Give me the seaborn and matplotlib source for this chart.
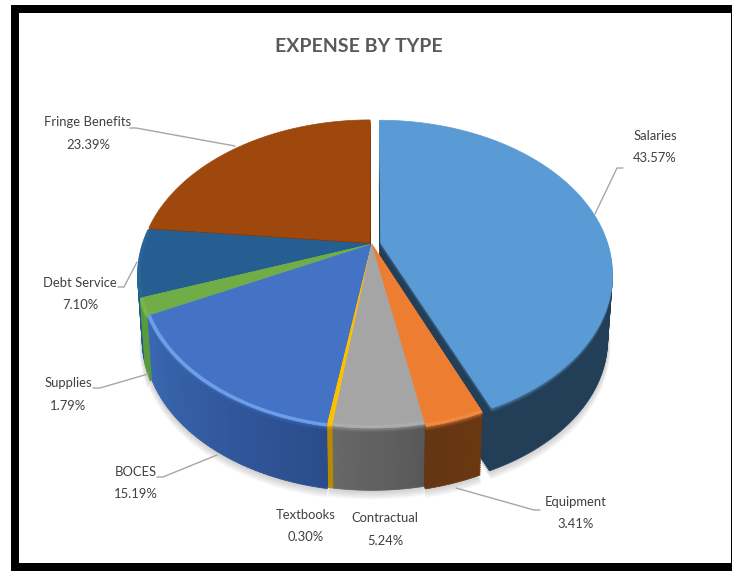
import numpy as np
import matplotlib
matplotlib.use("Agg")
import matplotlib.pyplot as plt
import seaborn as sns
from matplotlib.patches import Rectangle
from matplotlib.path import Path
from matplotlib.transforms import Transform, Affine2D

categories = ["Salaries", "Equipment", "Contractual", "Textbooks",
              "BOCES", "Supplies", "Debt Service", "Fringe Benefits"]
values = [43.57, 3.41, 5.24, 0.30, 15.19, 1.79, 7.10, 23.39]
top_colors = ["#5b9bd5", "#ed7d31", "#a5a5a5", "#ffc000",
              "#4472c4", "#70ad47", "#255e91", "#9e480e"]
rim_colors = ["#5b9bd5", "#ef8a45", "#adadad", "#ffc000",
              "#6d9eea", "#78b550", "#2a6498", "#9e480e"]
side_start = ["#233f57", "#6a3712", "#585858", "#b88a00",
              "#2b4c8c", "#5a9a3e", "#1f5a8c", "#6b3008"]
side_end = ["#233f57", "#643614", "#686868", "#b88a00",
            "#3a68b2", "#5a9a3e", "#1f5a8c", "#6b3008"]
explode = [0.04, 0.012, 0.0, 0.0, 0.006, 0.012, 0.012, 0.015]

# label placement (pixels in the figure): name line, value line
label_x = [655, 576, 385, 306, 136, 68, 80, 88]
name_y = [136, 502, 518, 515, 472, 383, 283, 122]
value_y = [158, 524, 541, 537, 494, 406, 305, 145]
leaders = [
    [(623, 168), (617, 168), (595, 214)],
    [(540, 510), (534, 510), (456, 488)],
    [],
    [],
    [(157, 477), (163, 477), (217, 455)],
    [(93, 388), (100, 388), (148, 374)],
    [(118, 287), (124, 287), (137, 262)],
    [(130, 128), (136, 128), (235, 146)],
]
title = "EXPENSE BY TYPE"

# projection of the unit pie on to the picture
CX, CY = 372, 244
K, A, B = 0.199, 147.4, 227.0
DEPTH = 66


class Perspective(Transform):
    input_dims = output_dims = 2
    is_separable = False
    has_inverse = False

    def __init__(self, drop=0.0):
        super().__init__()
        self.drop = drop

    def transform_non_affine(self, xy):
        xy = np.asarray(xy, dtype=float)
        w = 1 + K * xy[:, 1]
        s = 1 - 0.02 * self.drop / DEPTH
        return np.column_stack([CX + s * B * xy[:, 0] / w,
                                CY + self.drop - s * A * xy[:, 1] / w])

    def transform_path_non_affine(self, path):
        polys = path.transformed(Affine2D().scale(1000)).to_polygons(closed_only=False)
        return Path(self.transform_non_affine(np.vstack(polys) / 1000))


sns.set_theme(style="white")
plt.rcParams["font.family"] = ["Lato", "DejaVu Sans"]

fig = plt.figure(figsize=(7.32, 5.71), dpi=100, facecolor="white")
ax = fig.add_axes([0, 0, 1, 1])

fractions = np.array(values) / sum(values)
starts = 90 - 360 * np.concatenate([[0], np.cumsum(fractions)[:-1]])
mids = np.radians(starts - 180 * fractions)
centers = [(e * np.cos(m), e * np.sin(m)) for e, m in zip(explode, mids)]


def draw_slice(i, drop, colors, radius=1.0, **props):
    """One slice, split into as many sub-wedges as colours given."""
    parts = np.full(len(colors), fractions[i] / len(colors))
    wedges, _ = ax.pie(parts, colors=colors, startangle=starts[i], counterclock=False,
                       center=centers[i], radius=radius, normalize=False,
                       wedgeprops=dict(linewidth=0.5, **props))
    tr = Perspective(drop) + ax.transData
    for w in wedges:
        w.set_transform(tr)
        w.set_edgecolor(w.get_facecolor())
    return wedges


# soft ground shadow
for k in range(7, 0, -1):
    for i in range(len(values)):
        for w in draw_slice(i, DEPTH + k * 0.9, [(0.35, 0.35, 0.35)],
                            radius=1 + k * 0.002, alpha=0.045):
            w.set_linewidth(0)

# walls, bottom layer first; back slices before front slices
order = [7, 6, 5, 0, 4, 3, 2, 1]
for drop in np.arange(DEPTH, 0, -2):
    blend = np.clip((5 - drop) / 5, 0, 1) * 0.75
    for i in order:
        n = 1 if side_start[i] == side_end[i] else max(2, int(fractions[i] * 360))
        pal = np.array(sns.blend_palette([side_start[i], side_end[i]], max(n, 2)))[:, :3][:n]
        rim = np.array(matplotlib.colors.to_rgb(top_colors[i]))
        cols = [tuple(c * (1 - blend) + rim * blend) for c in pal]
        draw_slice(i, drop, cols)

# top faces, with a thin lighter rim
for i in order:
    draw_slice(i, 0, [rim_colors[i]])
    draw_slice(i, 0, [top_colors[i]], radius=0.985)

# leader lines and labels
for pts in leaders:
    if pts:
        xs, ys = zip(*pts)
        ax.plot(xs, ys, color="#a6a6a6", lw=1.0, zorder=3, solid_joinstyle="round")
for name, v, x, y1, y2 in zip(categories, values, label_x, name_y, value_y):
    ax.text(x, y1, name, ha="center", va="center", fontsize=9.4, color="#404040", zorder=4)
    ax.text(x, y2, f"{v:.2f}%", ha="center", va="center", fontsize=9.4, color="#404040", zorder=4)
ax.text(359, 47, title, ha="center", va="center", fontsize=14, fontweight="bold",
        color="#595959", zorder=4)

# picture frame
ax.add_patch(Rectangle((11, 5), 721, 566, facecolor="black", edgecolor="none", zorder=0))
ax.add_patch(Rectangle((19, 13), 712, 550, facecolor="white", edgecolor="none", zorder=0.5))

ax.set_aspect("auto")
ax.set_xlim(0, 732)
ax.set_ylim(571, 0)
ax.set_xticks([])
ax.set_yticks([])
ax.set_frame_on(False)
ax.patch.set_visible(False)
fig.savefig("out.png", dpi=100, facecolor="white")
